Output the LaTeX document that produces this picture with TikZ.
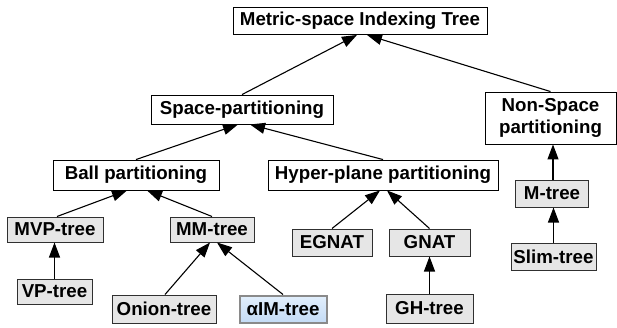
\documentclass[tikz,border=0pt]{standalone}
\usepackage{fontspec}
\setmainfont{Liberation Sans}
\usetikzlibrary{arrows.meta}
\definecolor{leafgray}{HTML}{E6E6E6}
\definecolor{leafedge}{HTML}{303030}
\definecolor{bluetop}{HTML}{E2EFFC}
\definecolor{bluebot}{HTML}{C4DBF5}
\definecolor{blueedge}{HTML}{8A8A8A}
\tikzset{
  every node/.style={font=\fontsize{18.7}{21.5}\selectfont\bfseries, inner sep=0pt, align=center},
  catbox/.style={draw=black, fill=white, line width=0.9pt},
  leafbox/.style={draw=leafedge, fill=leafgray, line width=1pt},
  hibox/.style={draw=blueedge, line width=2pt, top color=bluetop, bottom color=bluebot},
  conn/.style={line width=1.1pt, -{Triangle[length=15pt,width=11pt]}},
}
\begin{document}
\begin{tikzpicture}[x=1pt,y=-1pt]
\useasboundingbox (0,0) rectangle (617,327);
\fill[white] (0,0) rectangle (617,327);
% category boxes
\node[catbox, minimum width=254, minimum height=27] (root) at (360,21) {Metric-space Indexing Tree};
\node[catbox, minimum width=182, minimum height=29] (space) at (242,109.5) {Space-partitioning};
\node[catbox, minimum width=131, minimum height=52] (nonspace) at (550.5,118) {Non-Space\\partitioning};
\node[catbox, minimum width=166, minimum height=30] (ball) at (136,175) {Ball partitioning};
\node[catbox, minimum width=230, minimum height=30] (hyper) at (383,175) {Hyper-plane partitioning};
% leaf boxes
\node[leafbox, minimum width=73, minimum height=27] (mtree) at (552,193.5) {M-tree};
\node[leafbox, minimum width=96, minimum height=25] (mvp) at (55,229.5) {MVP-tree};
\node[leafbox, minimum width=84, minimum height=25] (mm) at (212,229.5) {MM-tree};
\node[leafbox, minimum width=80, minimum height=27] (egnat) at (332,242.5) {EGNAT};
\node[leafbox, minimum width=81, minimum height=27] (gnat) at (429.5,242.5) {GNAT};
\node[leafbox, minimum width=85, minimum height=27] (slim) at (553.5,256.5) {Slim-tree};
\node[leafbox, minimum width=75, minimum height=25] (vp) at (54.5,291.5) {VP-tree};
\node[leafbox, minimum width=104, minimum height=28] (onion) at (164,309) {Onion-tree};
\node[hibox, minimum width=87, minimum height=27] (aim) at (283,309) {αIM-tree};
\node[leafbox, minimum width=87, minimum height=29] (gh) at (429.5,308.5) {GH-tree};
% connectors
\draw[conn] (space.north) -- ([xshift=-3pt]root.south);
\draw[conn] (nonspace.north) -- ([xshift=7pt]root.south);
\draw[conn] (ball.north) -- ([xshift=-4pt]space.south);
\draw[conn] (hyper.north) -- ([xshift=8pt]space.south);
\draw[conn] ([xshift=2pt]mvp.north) -- ([xshift=-9pt]ball.south);
\draw[conn] (mm.north) -- ([xshift=11pt]ball.south);
\draw[conn] (vp.north) -- (vp.north |- mvp.south);
\draw[conn] ([xshift=1pt]onion.north) -- ([xshift=-2pt]mm.south);
\draw[conn] (aim.north) -- ([xshift=5pt]mm.south);
\draw[conn] (egnat.north) -- ([xshift=-3pt]hyper.south);
\draw[conn] (gnat.north) -- ([xshift=4pt]hyper.south);
\draw[conn] (gh.north) -- (gnat.south);
\draw[conn] ([xshift=1pt]mtree.north) -- ([xshift=1pt]mtree.north |- nonspace.south);
\draw[conn] (slim.north) -- (slim.north |- mtree.south);
\end{tikzpicture}
\end{document}
